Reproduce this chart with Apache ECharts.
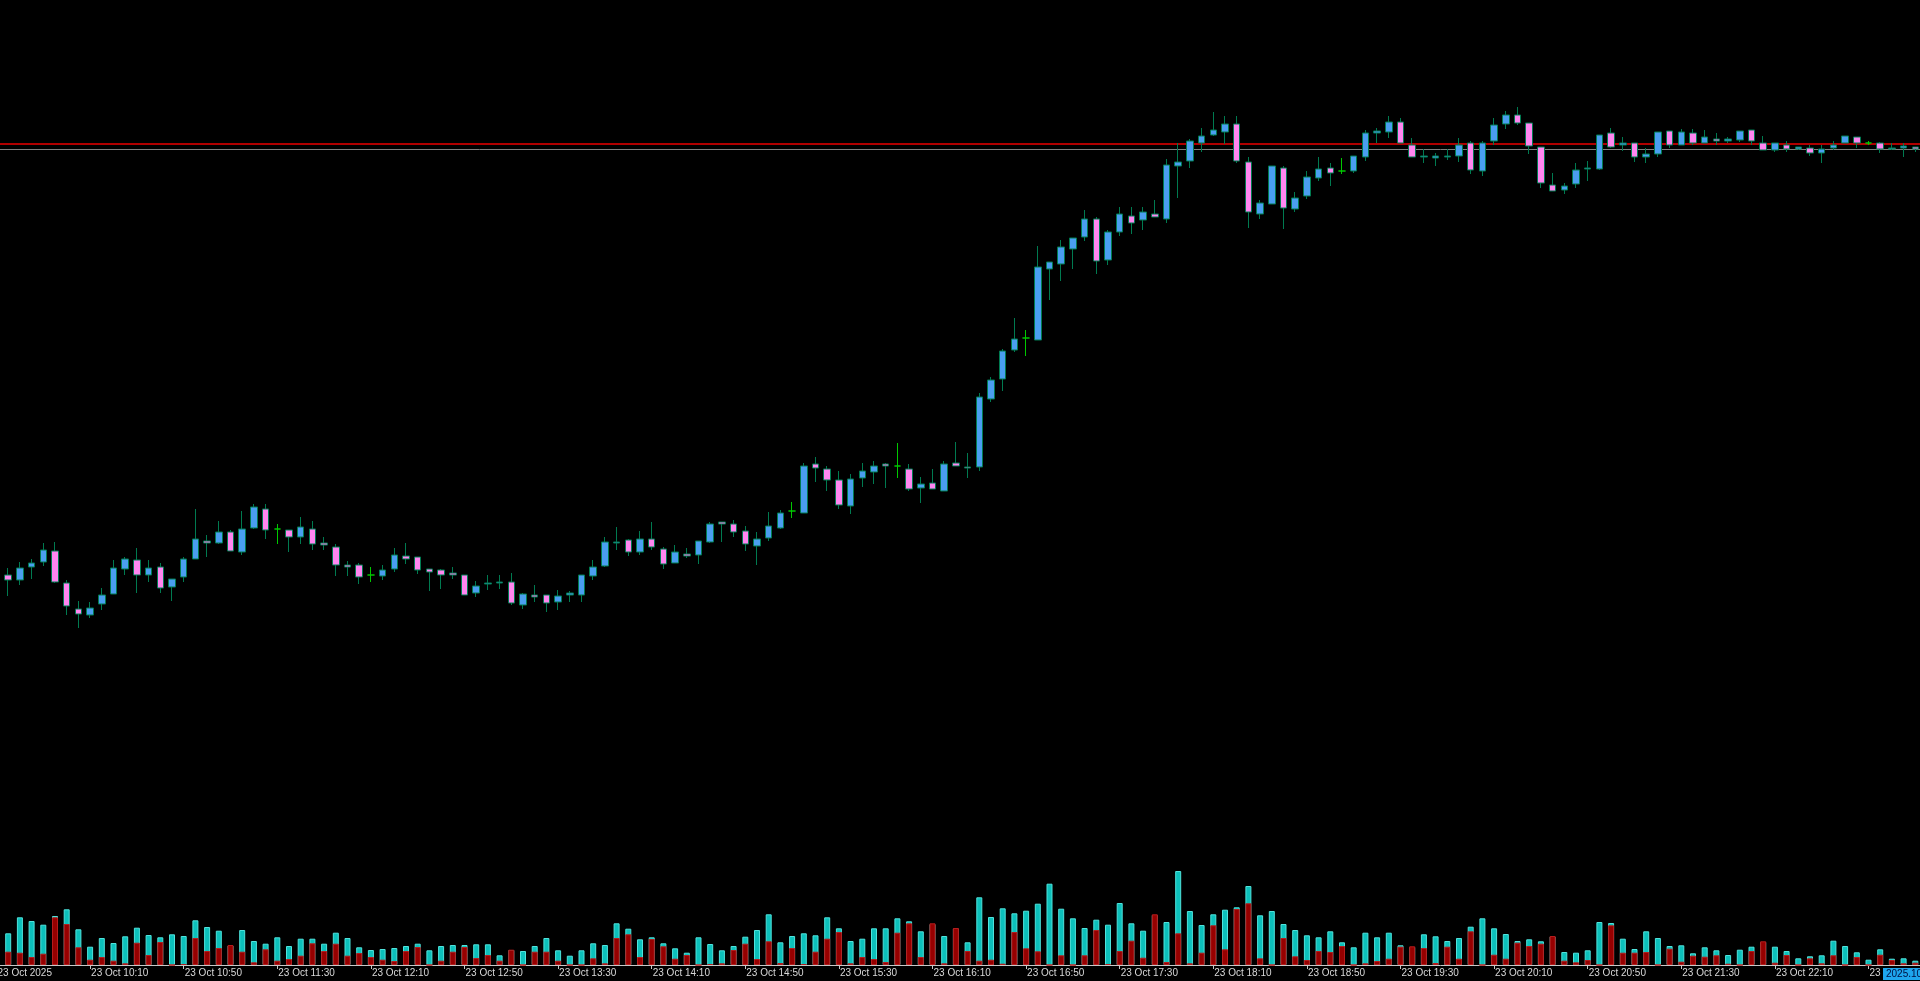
<!DOCTYPE html>
<html>
<head>
<meta charset="utf-8">
<script src="https://cdn.jsdelivr.net/npm/echarts@6/dist/echarts.min.js"></script>
<style>
html,body{margin:0;padding:0;background:#000;overflow:hidden;}
#chart{width:1920px;height:981px;}
</style>
</head>
<body>
<div id="chart"></div>
<script>
// 5-minute bars, 23 Oct 2025
const categories = [
'09:30','09:35','09:40','09:45','09:50','09:55',
'10:00','10:05','10:10','10:15','10:20','10:25','10:30','10:35','10:40','10:45','10:50','10:55',
'11:00','11:05','11:10','11:15','11:20','11:25','11:30','11:35','11:40','11:45','11:50','11:55',
'12:00','12:05','12:10','12:15','12:20','12:25','12:30','12:35','12:40','12:45','12:50','12:55',
'13:00','13:05','13:10','13:15','13:20','13:25','13:30','13:35','13:40','13:45','13:50','13:55',
'14:00','14:05','14:10','14:15','14:20','14:25','14:30','14:35','14:40','14:45','14:50','14:55',
'15:00','15:05','15:10','15:15','15:20','15:25','15:30','15:35','15:40','15:45','15:50','15:55',
'16:00','16:05','16:10','16:15','16:20','16:25','16:30','16:35','16:40','16:45','16:50','16:55',
'17:00','17:05','17:10','17:15','17:20','17:25','17:30','17:35','17:40','17:45','17:50','17:55',
'18:00','18:05','18:10','18:15','18:20','18:25','18:30','18:35','18:40','18:45','18:50','18:55',
'19:00','19:05','19:10','19:15','19:20','19:25','19:30','19:35','19:40','19:45','19:50','19:55',
'20:00','20:05','20:10','20:15','20:20','20:25','20:30','20:35','20:40','20:45','20:50','20:55',
'21:00','21:05','21:10','21:15','21:20','21:25','21:30','21:35','21:40','21:45','21:50','21:55',
'22:00','22:05','22:10','22:15','22:20','22:25','22:30','22:35','22:40','22:45','22:50','22:55',
'23:00','23:05','23:10'
];

const openP = [
4044.2,4042.5,4042.0,4043.3,4043.8,4044.9,4041.7,4039.1,4038.5,4039.6,
4040.6,4043.1,4044.0,4042.5,4043.3,4041.3,4042.3,4044.1,4045.9,4045.7,
4046.8,4044.8,4047.2,4049.1,4047.1,4047.0,4046.3,4047.1,4045.7,4045.3,
4043.5,4043.5,4042.5,4042.4,4043.1,4044.4,4044.3,4043.1,4043.0,4042.7,
4042.5,4040.7,4041.6,4041.7,4041.8,4039.5,4040.5,4040.5,4039.8,4040.5,
4040.5,4042.4,4043.4,4045.7,4046.0,4044.8,4046.1,4045.1,4043.7,4044.6,
4044.5,4045.8,4047.8,4047.6,4046.9,4045.4,4046.2,4047.2,4048.9,4048.7,
4053.6,4053.1,4052.0,4049.4,4052.2,4052.8,4053.6,4053.4,4053.1,4051.2,
4051.7,4050.9,4053.7,4053.3,4053.3,4060.1,4062.1,4065.0,4066.2,4066.0,
4073.1,4073.6,4075.1,4076.3,4078.1,4074.0,4076.8,4078.4,4078.0,4078.6,
4078.1,4083.4,4083.9,4085.7,4086.5,4086.8,4087.6,4083.8,4078.6,4079.6,
4083.2,4079.1,4080.4,4082.2,4083.2,4082.9,4082.9,4084.3,4086.7,4086.8,
4087.8,4085.5,4084.3,4084.2,4084.3,4084.4,4085.7,4082.9,4085.9,4087.6,
4088.5,4087.7,4085.3,4081.5,4081.0,4081.6,4083.1,4083.1,4086.7,4085.5,
4085.7,4084.3,4084.6,4086.9,4085.5,4086.7,4085.7,4086.1,4085.9,4086.0,
4087.0,4085.7,4085.0,4085.5,4085.1,4085.2,4084.7,4085.2,4085.7,4086.3,
4085.7,4085.7,4085.1,4085.2,4085.3
];
const closeP = [
4042.5,4042.0,4043.2,4043.7,4045.0,4041.8,4039.4,4038.6,4039.2,4040.5,
4043.2,4044.1,4042.5,4043.2,4041.2,4042.1,4044.1,4046.1,4045.7,4046.8,
4044.9,4047.1,4049.3,4047.0,4047.1,4046.3,4047.3,4045.6,4045.5,4043.5,
4043.3,4042.3,4042.5,4043.0,4044.5,4044.1,4043.0,4042.8,4042.5,4042.5,
4040.5,4041.4,4041.7,4041.8,4039.7,4040.6,4040.3,4039.7,4040.4,4040.7,
4042.5,4043.3,4045.8,4045.8,4044.8,4046.1,4045.3,4043.6,4044.8,4044.4,
4045.9,4047.6,4047.6,4046.8,4045.6,4046.1,4047.4,4048.7,4048.9,4053.4,
4053.2,4052.0,4049.5,4052.1,4052.9,4053.4,4053.4,4053.4,4051.1,4051.6,
4051.1,4053.6,4053.4,4053.2,4060.3,4062.0,4064.9,4066.1,4066.2,4073.3,
4073.8,4075.3,4076.2,4078.1,4073.9,4076.8,4078.6,4077.7,4078.8,4078.3,
4083.5,4083.8,4085.9,4086.4,4087.0,4087.6,4083.9,4078.8,4079.7,4083.4,
4079.2,4080.2,4082.3,4083.1,4082.7,4082.9,4084.4,4086.7,4086.9,4087.8,
4085.7,4084.3,4084.4,4084.4,4084.4,4085.5,4083.0,4085.7,4087.5,4088.5,
4087.7,4085.4,4081.7,4080.9,4081.4,4083.0,4083.2,4086.5,4085.3,4085.7,
4084.3,4084.6,4086.8,4085.5,4086.8,4085.7,4086.3,4085.9,4086.1,4086.9,
4085.9,4085.0,4085.7,4085.1,4085.3,4084.7,4085.1,4085.5,4086.4,4085.7,
4085.7,4085.1,4085.2,4085.4,4085.1
];
const lowP = [
4042.2,4040.4,4041.5,4042.1,4043.4,4041.7,4038.5,4037.2,4038.2,4039.0,
4040.6,4042.5,4040.7,4041.8,4040.7,4039.9,4041.8,4044.1,4044.3,4045.6,
4044.9,4044.5,4047.1,4046.1,4045.6,4044.8,4045.6,4045.0,4045.0,4042.4,
4042.4,4041.6,4041.8,4042.0,4042.8,4043.6,4042.6,4040.9,4041.1,4042.1,
4040.5,4040.3,4041.0,4041.1,4039.5,4039.1,4039.8,4038.8,4039.0,4039.8,
4039.8,4042.0,4043.3,4045.0,4044.4,4044.5,4045.0,4043.1,4043.7,4044.2,
4043.6,4045.7,4045.8,4046.3,4044.9,4043.5,4045.9,4047.1,4048.2,4048.7,
4051.8,4050.9,4049.1,4048.6,4051.3,4051.6,4051.2,4052.2,4050.9,4049.7,
4051.1,4050.9,4053.4,4052.2,4052.9,4059.8,4060.9,4064.8,4064.4,4066.0,
4070.0,4071.9,4073.1,4075.9,4072.6,4073.5,4076.4,4076.6,4077.0,4078.3,
4077.7,4080.2,4083.2,4084.8,4086.4,4085.6,4083.7,4077.2,4078.1,4079.6,
4077.1,4078.8,4080.1,4081.9,4081.4,4082.6,4082.7,4083.9,4085.7,4086.2,
4085.7,4084.3,4083.7,4083.4,4084.0,4083.8,4082.6,4082.4,4085.5,4087.1,
4087.5,4084.6,4081.2,4080.9,4080.6,4081.2,4081.9,4083.0,4085.2,4084.9,
4083.8,4083.7,4084.3,4085.2,4085.5,4085.5,4085.7,4085.5,4085.7,4085.8,
4085.5,4085.0,4084.8,4084.8,4085.0,4084.4,4083.7,4085.0,4085.7,4085.2,
4085.5,4084.7,4085.0,4084.3,4084.8
];
const highP = [
4044.5,4043.2,4043.8,4044.1,4045.7,4045.8,4042.0,4039.9,4039.8,4041.2,
4044.0,4044.3,4045.2,4044.0,4043.7,4042.1,4044.3,4049.1,4046.5,4047.9,
4047.0,4048.9,4049.6,4049.6,4047.6,4047.0,4048.3,4047.9,4046.3,4045.6,
4043.9,4043.7,4043.3,4043.5,4045.2,4045.7,4044.3,4043.1,4043.1,4043.3,
4042.5,4041.9,4042.5,4042.5,4042.7,4040.7,4041.5,4040.5,4041.0,4040.9,
4042.5,4044.0,4046.3,4047.3,4046.1,4046.9,4047.8,4045.3,4045.5,4045.2,
4045.9,4047.8,4047.8,4048.0,4047.4,4046.8,4048.8,4049.0,4049.8,4053.7,
4054.3,4053.4,4052.9,4052.6,4053.7,4053.9,4053.7,4055.7,4053.6,4052.3,
4053.1,4053.9,4055.8,4054.7,4060.7,4062.3,4065.1,4068.2,4067.0,4075.4,
4073.8,4076.0,4076.2,4079.0,4078.3,4077.0,4079.3,4079.3,4079.3,4080.0,
4084.1,4085.7,4086.1,4087.2,4088.8,4088.4,4088.4,4084.3,4080.0,4083.4,
4083.4,4080.8,4082.9,4084.3,4083.7,4084.2,4084.4,4087.0,4087.2,4088.4,
4088.2,4086.2,4085.1,4084.7,4085.1,4086.2,4085.9,4085.9,4088.2,4088.9,
4089.3,4087.7,4085.3,4082.7,4081.7,4083.7,4083.9,4086.5,4087.2,4086.3,
4085.7,4085.2,4086.8,4086.9,4087.1,4087.1,4087.0,4086.7,4086.3,4086.9,
4087.0,4086.4,4085.7,4085.9,4085.3,4085.5,4085.5,4085.9,4086.4,4086.3,
4085.9,4085.8,4085.7,4085.7,4085.3
];
// tick volume: total (teal) and sell part (dark red)
const volTotal = [
427,317,477,440,403,490,557,357,183,270,
220,287,373,300,277,307,290,447,380,343,
195,350,240,213,277,190,263,263,213,323,
270,177,150,160,170,190,213,147,190,200,
200,207,207,97,150,140,190,270,147,93,
147,217,200,417,363,257,277,217,167,123,
277,210,147,190,283,350,507,227,290,317,
297,477,367,240,263,367,367,467,437,337,
410,290,365,227,677,480,567,517,543,613,
813,563,467,370,453,403,620,417,343,500,
430,940,540,400,507,553,577,790,497,540,
410,350,297,277,337,227,177,323,277,323,
197,180,307,287,240,270,383,467,367,310,
240,257,237,285,130,123,147,430,420,263,
160,337,270,190,197,117,177,147,100,153,
183,230,183,140,67,87,97,243,190,127,
53,157,63,67,43
];
const volSell = [
217,133,123,80,113,477,410,177,53,80,
43,17,223,100,230,0,10,270,140,170,
200,133,27,157,43,60,93,217,140,213,
93,120,80,53,40,140,180,0,43,133,
180,70,100,43,153,0,133,133,43,0,
0,67,17,270,307,80,260,187,63,100,
0,10,17,150,213,60,237,20,170,10,
133,263,330,17,80,60,30,323,417,80,
417,17,370,140,43,53,13,330,167,137,
0,97,0,97,350,10,140,243,73,507,
30,317,17,123,397,157,560,617,67,0,
270,87,50,140,130,190,0,17,40,63,
183,187,170,20,183,63,337,0,103,63,
223,190,213,290,43,27,50,0,397,123,
123,130,0,163,33,93,83,97,13,0,
140,237,23,100,0,67,17,97,0,80,
0,103,50,17,23
];
const askPrice = 4085.6;
const bidPrice = 4085.1;
const firstLabel = '23 Oct 2025';
const dayLabel = '23 Oct';
const currentTimeLabel = '2025.10.23 23:10';

const candleData = categories.map((c, i) => [openP[i], closeP[i], lowP[i], highP[i]]);

const chart = echarts.init(document.getElementById('chart'), null, {renderer: 'canvas'});
const labelFont = 'Liberation Sans';
const option = {
  backgroundColor: '#000000',
  animation: false,
  grid: [
    {left: -9.35, right: -1.15, top: 0, bottom: 16, outerBoundsMode: 'none', containLabel: false},
    {left: -9.35, right: -1.15, bottom: 16, height: 100, outerBoundsMode: 'none', containLabel: false}
  ],
  xAxis: [
    {type: 'category', gridIndex: 0, data: categories, boundaryGap: true,
     axisLine: {show: false}, axisTick: {show: false}, axisLabel: {show: false}, splitLine: {show: false}},
    {type: 'category', gridIndex: 1, data: categories, boundaryGap: true,
     axisLine: {show: true, lineStyle: {color: '#c8c8c8', width: 1}},
     axisTick: {show: true, alignWithLabel: true, length: 4, lineStyle: {color: '#c8c8c8'},
                interval: function (idx) { return idx % 8 === 0; }},
     axisLabel: {show: true, color: '#d8d8d8', fontFamily: labelFont, fontSize: 10,
                 align: 'left', margin: 3, lineHeight: 11, padding: [0, 0, 0, 1],
                 hideOverlap: false,
                 interval: function (idx) { return idx % 8 === 0; },
                 formatter: function (val, idx) { return idx === 0 ? firstLabel : dayLabel + ' ' + val; }},
     splitLine: {show: false}}
  ],
  yAxis: [
    {type: 'value', gridIndex: 0, min: 4003.5, max: 4100, show: false, splitLine: {show: false}},
    {type: 'value', gridIndex: 1, min: 0, max: 1000, show: false, splitLine: {show: false}}
  ],
  series: [
    {
      type: 'candlestick', xAxisIndex: 0, yAxisIndex: 0, data: candleData,
      barWidth: 7, z: 6,
      itemStyle: {
        color: '#4a9ef0', color0: '#ff86f0',
        borderColor: '#007a50', borderColor0: '#007a50',
        borderColorDoji: '#00c800', borderWidth: 1
      },
      markLine: {
        silent: true, symbol: 'none', z: 1, animation: false,
        label: {show: false},
        data: [
          {yAxis: askPrice, lineStyle: {color: '#b00000', width: 2, type: 'solid'}},
          {yAxis: bidPrice, lineStyle: {color: '#808080', width: 1, type: 'solid'}}
        ]
      }
    },
    {
      type: 'bar', xAxisIndex: 1, yAxisIndex: 1, data: volTotal, barWidth: 6, barGap: '-100%',
      itemStyle: {color: '#0cc0bb', borderColor: '#4fe3dc', borderWidth: 1}
    },
    {
      type: 'bar', xAxisIndex: 1, yAxisIndex: 1, data: volSell, barWidth: 6, barGap: '-100%',
      itemStyle: {color: '#960000', borderColor: '#b51c1c', borderWidth: 1}
    }
  ],
  graphic: [
    {type: 'text', left: 1883, top: 968, z: 100,
     style: {text: currentTimeLabel, fill: '#001040', font: '10px "Liberation Sans"',
             backgroundColor: '#1ea6ee', padding: [1, 3, 1, 3]}}
  ]
};
chart.setOption(option);
</script>
</body>
</html>
